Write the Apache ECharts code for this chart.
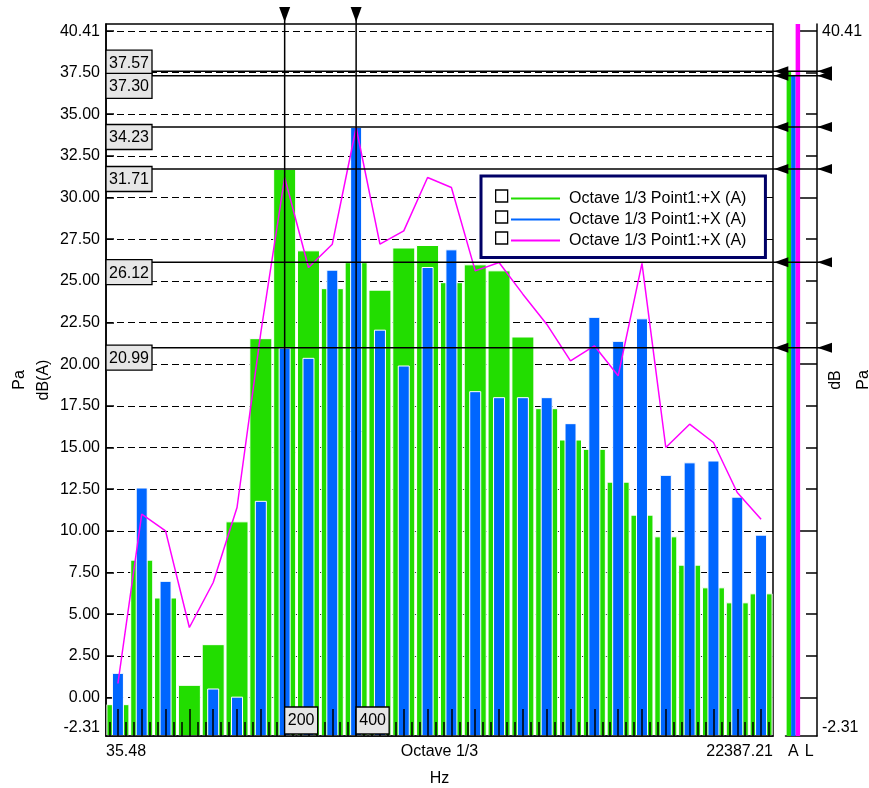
<!DOCTYPE html>
<html><head><meta charset="utf-8">
<script src="https://cdn.jsdelivr.net/npm/echarts@6/dist/echarts.min.js"></script>
<style>html,body{margin:0;padding:0;background:#fff;}#c{width:869px;height:788px;}</style>
</head><body><div id="c"></div>
<script>
// ---------------- data ----------------
const bands = ['40','50','63','80','100','125','160','200','250','315','400','500','630','800','1000','1250','1600','2000','2500','3150','4000','5000','6300','8000','10000','12500','16000','20000'];
const greenValues = [-0.40, 8.27, 6.00, 0.76, 3.20, 10.57, 21.56, 31.71, 26.83, 24.56, 26.12, 24.47, 27.00, 27.15, 24.92, 25.99, 25.63, 21.66, 17.36, 15.48, 14.92, 12.95, 10.97, 9.67, 7.97, 6.61, 5.71, 6.25];
const blueValues = [1.48, 12.60, 7.00, null, 0.54, 0.05, 11.80, 20.99, 20.38, 25.67, 34.23, 22.07, 19.92, 25.83, 26.89, 18.38, 18.02, 18.02, 18.02, 16.46, 22.84, 21.40, 22.75, 13.36, 14.11, 14.22, 12.05, 9.77];
const magentaValues = [0.84, 11.0, 10.0, 4.2, 6.9, 11.4, 21.9, 31.2, 25.8, 27.2, 34.2, 27.2, 28.0, 31.2, 30.6, 25.6, 26.1, 24.2, 22.4, 20.2, 21.1, 19.3, 26.05, 15.0, 16.4, 15.3, 12.3, 10.7];
const overallCategories = ['A', 'L'];
const overallGreen = [37.57, null];
const overallBlue = [37.30, null];
const overallMagenta = [40.41, null];
const cursorBands = ['200', '400'];
const cursorLevels = [37.57, 37.30, 34.23, 31.71, 26.12, 20.99];
const yMin = -2.31, yMax = 40.41;
const yTickValues = [0, 2.5, 5, 7.5, 10, 12.5, 15, 17.5, 20, 22.5, 25, 27.5, 30, 32.5, 35, 37.5, 40];
const yLabelValues = [-2.31, 0, 2.5, 5, 7.5, 10, 12.5, 15, 17.5, 20, 22.5, 25, 27.5, 30, 32.5, 35, 37.5, 40.41];
const rightLongTicks = [0, 10, 20, 30, 40];
const rightLabelValues = [-2.31, 40.41];
const xEdgeLabels = ['35.48', 'Octave 1/3', '22387.21'];
const seriesLabel = 'Octave 1/3 Point1:+X (A)';

// ---------------- layout ----------------
const FONT = '"Liberation Sans", Arial, sans-serif';
const G0 = { left: 106, top: 24, width: 667, height: 712 };
const G1 = { left: 785.5, top: 24, width: 31.5, height: 712 };
const PANEL_AXIS_X = G1.left + G1.width;
const LINE_END = PANEL_AXIS_X + 15;
const SUB = 3; // thirds of a band
const thirds = Array.from({ length: bands.length * SUB }, (_, i) => String(i));
const bandIndex = f => bands.indexOf(f) * SUB + 1;

const C_GREEN = '#22dd00', C_BLUE = '#0066ff', C_MAG = '#ff00ff';

function levelItem(params, api) {
  const v = api.value(1);
  const y = api.coord([0, v])[1];
  const cs = params.coordSys;
  const x0 = cs.x, xr = cs.x + cs.width;
  const boxH = 25, boxW = 46;
  let boxTop = y - 2.5;
  let nextY = null;
  cursorLevels.forEach(o => {
    if (o < v) {
      const oy = api.coord([0, o])[1];
      if (oy - y < boxH && (nextY === null || oy < nextY)) nextY = oy;
    }
  });
  if (nextY !== null) boxTop = nextY - 0.7 - boxH;
  return {
    type: 'group',
    children: [
      { type: 'line', shape: { x1: x0, y1: y, x2: LINE_END, y2: y }, style: { stroke: '#000', lineWidth: 1.5 } },
      { type: 'polygon', shape: { points: [[xr + 1.3, y], [xr + 15.3, y - 5], [xr + 15.3, y + 5]] }, style: { fill: '#000' } },
      { type: 'polygon', shape: { points: [[PANEL_AXIS_X + 0.5, y], [PANEL_AXIS_X + 15, y - 5], [PANEL_AXIS_X + 15, y + 5]] }, style: { fill: '#000' } },
      { type: 'rect', shape: { x: x0, y: boxTop, width: boxW, height: boxH }, style: { fill: '#e6e6e6', stroke: '#000', lineWidth: 1.3 } },
      { type: 'text', style: { text: v.toFixed(2), x: x0 + boxW / 2, y: boxTop + boxH / 2 + 1, align: 'center', verticalAlign: 'middle', font: '16px ' + FONT, fill: '#000' } }
    ]
  };
}

function cursorItem(params, api) {
  const cs = params.coordSys;
  const x = api.coord([api.value(0), yMin])[0];
  const bottom = cs.y + cs.height;
  return {
    type: 'group',
    children: [
      { type: 'line', shape: { x1: x, y1: 7, x2: x, y2: bottom }, style: { stroke: '#000', lineWidth: 1.5 } },
      { type: 'polygon', shape: { points: [[x - 5.5, 7], [x + 5.5, 7], [x, 22]] }, style: { fill: '#000' } },
      { type: 'rect', shape: { x: x, y: bottom - 29, width: 33, height: 27 }, style: { fill: '#e6e6e6', stroke: '#000', lineWidth: 1.3 } },
      { type: 'text', style: { text: cursorBands[params.dataIndex], x: x + 16.5, y: bottom - 15, align: 'center', verticalAlign: 'middle', font: '16px ' + FONT, fill: '#000' } }
    ]
  };
}

const txt = { color: '#000', fontSize: 16, fontFamily: FONT };

const option = {
  animation: false,
  backgroundColor: '#fff',
  textStyle: { fontFamily: FONT },
  grid: [
    Object.assign({ show: true, borderColor: '#000', borderWidth: 1.5, containLabel: false, outerBoundsMode: 'none' }, G0),
    Object.assign({ show: false, containLabel: false, outerBoundsMode: 'none' }, G1)
  ],
  legend: [
    {
      data: ['g', 'b', 'm'], orient: 'vertical', left: 490, top: 183, z: 10,
      icon: 'rect', itemWidth: 12, itemHeight: 12, itemGap: 5, selectedMode: false,
      itemStyle: { color: '#fff', borderColor: '#000', borderWidth: 1.3 },
      formatter: () => ' ', textStyle: { fontSize: 16, lineHeight: 16 }
    },
    {
      data: ['g', 'b', 'm'], orient: 'vertical', left: 481, top: 176,
      padding: [14.5, 19, 9, 30], backgroundColor: '#fff', borderColor: '#000066', borderWidth: 3, borderRadius: 0,
      icon: 'rect', itemWidth: 49, itemHeight: 2, itemGap: 5, selectedMode: false,
      itemStyle: { borderWidth: 0 },
      formatter: () => seriesLabel,
      textStyle: { color: '#000', fontSize: 16, lineHeight: 16, fontFamily: FONT, padding: [0, 0, 0, 4] }
    }
  ],
  xAxis: [
    {
      type: 'category', gridIndex: 0, position: 'bottom', data: thirds, boundaryGap: true, z: 5,
      axisLine: { show: true, onZero: false, lineStyle: { color: '#000', width: 1.5 } },
      axisTick: { show: true, inside: true, alignWithLabel: true, length: 27, interval: (i) => i % SUB === 1, lineStyle: { color: '#000', width: 1.5 } },
      axisLabel: { show: false }, splitLine: { show: false }
    },
    {
      type: 'category', gridIndex: 0, position: 'bottom', data: thirds, boundaryGap: true, z: 5,
      axisLine: { show: false, onZero: false },
      axisTick: { show: true, inside: true, alignWithLabel: true, length: 14, interval: (i) => i % SUB !== 1, lineStyle: { color: '#000', width: 1.5 } },
      axisLabel: { show: false }, splitLine: { show: false }
    },
    {
      type: 'value', gridIndex: 0, position: 'bottom', min: 0, max: 1, interval: 0.5,
      axisLine: { show: false, onZero: false }, axisTick: { show: false }, splitLine: { show: false },
      axisLabel: Object.assign({ margin: 8, formatter: v => xEdgeLabels[Math.round(v * 2)], alignMinLabel: 'left', alignMaxLabel: 'right', showMinLabel: true, showMaxLabel: true }, txt),
      name: 'Hz', nameLocation: 'middle', nameGap: 35, nameTextStyle: txt, nameMoveOverlap: false
    },
    {
      type: 'category', gridIndex: 1, position: 'bottom', data: overallCategories, boundaryGap: true,
      axisLine: { show: true, onZero: false, lineStyle: { color: '#000', width: 1.5 } },
      axisTick: { show: false }, splitLine: { show: false },
      axisLabel: Object.assign({ margin: 8, interval: 0 }, txt)
    }
  ],
  yAxis: [
    {
      type: 'value', gridIndex: 0, position: 'left', min: yMin, max: yMax, startValue: yMin,
      axisLine: { show: true, onZero: false, lineStyle: { color: '#000', width: 1.5 } },
      axisTick: { show: true, inside: true, length: 8, customValues: yTickValues, lineStyle: { color: '#000', width: 1.5 } },
      axisLabel: Object.assign({ customValues: yLabelValues, formatter: v => Number(v).toFixed(2), margin: 6, verticalAlignMinLabel: 'bottom', verticalAlignMaxLabel: 'top' }, txt),
      splitLine: { show: true, lineStyle: { type: [7, 4], color: '#000', width: 1 } },
      name: 'dB(A)', nameLocation: 'middle', nameRotate: 90, nameGap: 54, nameTextStyle: txt, nameMoveOverlap: false
    },
    {
      type: 'value', gridIndex: 0, position: 'left', min: yMin, max: yMax,
      axisLine: { show: false, onZero: false }, axisTick: { show: false }, axisLabel: { show: false }, splitLine: { show: false },
      name: 'Pa', nameLocation: 'middle', nameRotate: 90, nameGap: 78, nameTextStyle: txt, nameMoveOverlap: false
    },
    {
      type: 'value', gridIndex: 1, position: 'right', min: yMin, max: yMax, startValue: yMin,
      axisLine: { show: true, onZero: false, lineStyle: { color: '#000', width: 1.5 } },
      axisTick: { show: true, inside: true, length: 11, customValues: yTickValues, lineStyle: { color: '#000', width: 1.5 } },
      axisLabel: Object.assign({ customValues: rightLabelValues, formatter: v => Number(v).toFixed(2), margin: 5, verticalAlignMinLabel: 'bottom', verticalAlignMaxLabel: 'top' }, txt),
      splitLine: { show: false },
      name: 'dB', nameLocation: 'middle', nameRotate: 90, nameGap: 11, nameTextStyle: txt, nameMoveOverlap: false
    },
    {
      type: 'value', gridIndex: 1, position: 'right', min: yMin, max: yMax,
      axisLine: { show: false, onZero: false },
      axisTick: { show: true, inside: true, length: 20, customValues: rightLongTicks, lineStyle: { color: '#000', width: 1.5 } },
      axisLabel: { show: false }, splitLine: { show: false },
      name: 'Pa', nameLocation: 'middle', nameRotate: 90, nameGap: 39, nameTextStyle: txt, nameMoveOverlap: false
    }
  ],
  series: [
    {
      name: 'g', type: 'bar', xAxisIndex: 0, yAxisIndex: 0, barWidth: 23, z: 2, clip: true,
      itemStyle: { color: C_GREEN, borderColor: '#fff', borderWidth: 1 },
      data: greenValues.map((v, i) => [i * SUB + 1, v])
    },
    {
      name: 'b', type: 'bar', xAxisIndex: 1, yAxisIndex: 0, barWidth: 12, z: 3, clip: true,
      itemStyle: { color: C_BLUE, borderColor: '#fff', borderWidth: 1 },
      data: blueValues.map((v, i) => [i * SUB + 1, v])
    },
    {
      name: 'm', type: 'line', xAxisIndex: 0, yAxisIndex: 0, symbol: 'none', z: 4,
      lineStyle: { color: C_MAG, width: 1.5 }, itemStyle: { color: C_MAG },
      data: magentaValues.map((v, i) => [i * SUB + 1, v])
    },
    {
      name: 'levels', type: 'custom', xAxisIndex: 0, yAxisIndex: 0, z: 10, silent: true,
      renderItem: levelItem, data: cursorLevels.map(v => [0, v])
    },
    {
      name: 'cursors', type: 'custom', xAxisIndex: 0, yAxisIndex: 0, z: 10, silent: true,
      renderItem: cursorItem, data: cursorBands.map(f => [bandIndex(f), yMin])
    },
    {
      name: 'gA', type: 'bar', xAxisIndex: 3, yAxisIndex: 2, barWidth: 4.5, barGap: '0%', clip: true,
      itemStyle: { color: C_GREEN }, data: overallGreen
    },
    {
      name: 'bA', type: 'bar', xAxisIndex: 3, yAxisIndex: 2, barWidth: 4.5, barGap: '0%', clip: true,
      itemStyle: { color: C_BLUE }, data: overallBlue
    },
    {
      name: 'mA', type: 'bar', xAxisIndex: 3, yAxisIndex: 2, barWidth: 4.5, barGap: '0%', clip: true,
      itemStyle: { color: C_MAG }, data: overallMagenta
    }
  ]
};

const chart = echarts.init(document.getElementById('c'), null, { renderer: 'canvas' });
chart.setOption(option);
</script>
</body></html>
